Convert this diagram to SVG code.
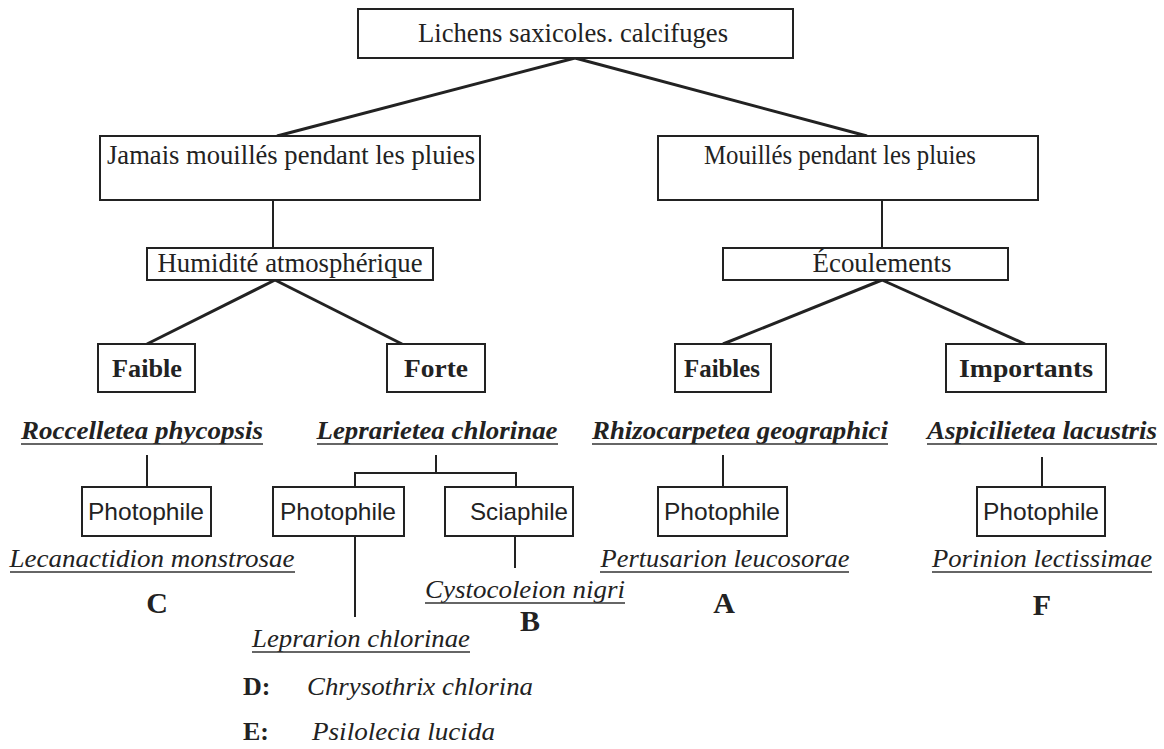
<svg xmlns="http://www.w3.org/2000/svg" width="1164" height="749" viewBox="0 0 1164 749">
<style>
  .box { fill: #ffffff; stroke: #222; stroke-width: 2; }
  .ln { stroke: #222; stroke-width: 2; fill: none; }
  .thick { stroke: #222; stroke-width: 3; fill: none; }
  .ul { stroke: #333; stroke-width: 1.6; }
  .ser { font-family: "Liberation Serif", "Times New Roman", serif; fill: #222; text-anchor: middle; }
  .sans { font-family: "Liberation Sans", Arial, sans-serif; fill: #222; text-anchor: middle; font-size: 24px; }
  .main { font-size: 28px; }
  .bold { font-weight: bold; font-size: 26px; }
  .cls { font-weight: bold; font-style: italic; font-size: 26px; }
  .it { font-style: italic; font-size: 26px; }
  .let { font-weight: bold; font-size: 30px; }
  .lft { text-anchor: start; }
</style>
<rect width="1164" height="749" fill="#ffffff"/>

<g id="connectors">
  <line class="thick" x1="575" y1="58" x2="277" y2="136"/>
  <line class="thick" x1="575" y1="58" x2="867" y2="136"/>
  <line class="ln" x1="273" y1="200" x2="273" y2="248"/>
  <line class="ln" x1="882" y1="200" x2="882" y2="248"/>
  <line class="thick" x1="275" y1="280" x2="147" y2="344"/>
  <line class="thick" x1="275" y1="280" x2="402" y2="344"/>
  <line class="thick" x1="882" y1="280" x2="723" y2="344"/>
  <line class="thick" x1="882" y1="280" x2="1025" y2="344"/>
  <line class="ln" x1="147" y1="455" x2="147" y2="487"/>
  <polyline class="ln" points="436,455 436,473"/>
  <polyline class="ln" points="355,487 355,473 516,473 516,487"/>
  <line class="ln" x1="355" y1="536" x2="355" y2="617"/>
  <line class="ln" x1="515" y1="536" x2="515" y2="568"/>
  <line class="ln" x1="723" y1="455" x2="723" y2="487"/>
  <line class="ln" x1="1042" y1="457" x2="1042" y2="488"/>
</g>

<g id="root">
  <rect class="box" x="358" y="9" width="435" height="49"/>
  <text class="ser main" x="573" y="42" textLength="310" lengthAdjust="spacingAndGlyphs">Lichens saxicoles. calcifuges</text>
</g>

<g id="jamais">
  <rect class="box" x="100" y="136" width="380" height="64"/>
  <text class="ser main" x="291" y="164" textLength="368" lengthAdjust="spacingAndGlyphs">Jamais mouillés pendant les pluies</text>
</g>

<g id="mouilles">
  <rect class="box" x="658" y="136" width="380" height="64"/>
  <text class="ser main" x="840" y="164" textLength="272" lengthAdjust="spacingAndGlyphs">Mouillés pendant les pluies</text>
</g>

<g id="humidite">
  <rect class="box" x="147" y="248" width="286" height="32"/>
  <text class="ser main" x="290" y="272" textLength="265" lengthAdjust="spacingAndGlyphs">Humidité atmosphérique</text>
</g>

<g id="ecoulements">
  <rect class="box" x="723" y="248" width="285" height="32"/>
  <text class="ser main" x="882" y="272" textLength="139" lengthAdjust="spacingAndGlyphs">Écoulements</text>
</g>

<g id="faible">
  <rect class="box" x="98" y="344" width="97" height="48"/>
  <text class="ser bold" x="147" y="377" textLength="70" lengthAdjust="spacingAndGlyphs">Faible</text>
</g>

<g id="forte">
  <rect class="box" x="387" y="344" width="98" height="48"/>
  <text class="ser bold" x="436" y="377" textLength="64" lengthAdjust="spacingAndGlyphs">Forte</text>
</g>

<g id="faibles">
  <rect class="box" x="675" y="344" width="96" height="48"/>
  <text class="ser bold" x="722" y="377" textLength="76" lengthAdjust="spacingAndGlyphs">Faibles</text>
</g>

<g id="importants">
  <rect class="box" x="946" y="344" width="160" height="48"/>
  <text class="ser bold" x="1026" y="377" textLength="134" lengthAdjust="spacingAndGlyphs">Importants</text>
</g>

<g id="roccelletea">
  <text class="ser cls" x="142" y="439" textLength="242" lengthAdjust="spacingAndGlyphs">Roccelletea phycopsis</text>
  <line class="ul" x1="21" y1="444" x2="263" y2="444"/>
</g>

<g id="leprarietea">
  <text class="ser cls" x="437" y="439" textLength="241" lengthAdjust="spacingAndGlyphs">Leprarietea chlorinae</text>
  <line class="ul" x1="317" y1="444" x2="558" y2="444"/>
</g>

<g id="rhizocarpetea">
  <text class="ser cls" x="740" y="439" textLength="296" lengthAdjust="spacingAndGlyphs">Rhizocarpetea geographici</text>
  <line class="ul" x1="592" y1="444" x2="888" y2="444"/>
</g>

<g id="aspicilietea">
  <text class="ser cls" x="1042" y="439" textLength="230" lengthAdjust="spacingAndGlyphs">Aspicilietea lacustris</text>
  <line class="ul" x1="927" y1="444" x2="1157" y2="444"/>
</g>

<g id="photophile-c">
  <rect class="box" x="82" y="487" width="129" height="49"/>
  <text class="sans" x="146" y="520" textLength="116" lengthAdjust="spacingAndGlyphs">Photophile</text>
</g>

<g id="photophile-d">
  <rect class="box" x="273" y="487" width="131" height="49"/>
  <text class="sans" x="338" y="520" textLength="116" lengthAdjust="spacingAndGlyphs">Photophile</text>
</g>

<g id="sciaphile">
  <rect class="box" x="445" y="487" width="128" height="49"/>
  <text class="sans" x="519" y="520" textLength="98" lengthAdjust="spacingAndGlyphs">Sciaphile</text>
</g>

<g id="photophile-a">
  <rect class="box" x="658" y="487" width="129" height="49"/>
  <text class="sans" x="722" y="520" textLength="116" lengthAdjust="spacingAndGlyphs">Photophile</text>
</g>

<g id="photophile-f">
  <rect class="box" x="977" y="487" width="128" height="49"/>
  <text class="sans" x="1041" y="520" textLength="116" lengthAdjust="spacingAndGlyphs">Photophile</text>
</g>

<g id="lecanactidion">
  <text class="ser it" x="152" y="567" textLength="285" lengthAdjust="spacingAndGlyphs">Lecanactidion monstrosae</text>
  <line class="ul" x1="10" y1="572" x2="295" y2="572"/>
</g>

<g id="pertusarion">
  <text class="ser it" x="725" y="567" textLength="249" lengthAdjust="spacingAndGlyphs">Pertusarion leucosorae</text>
  <line class="ul" x1="600" y1="572" x2="849" y2="572"/>
</g>

<g id="porinion">
  <text class="ser it" x="1042" y="567" textLength="220" lengthAdjust="spacingAndGlyphs">Porinion lectissimae</text>
  <line class="ul" x1="932" y1="572" x2="1152" y2="572"/>
</g>

<g id="cystocoleion">
  <text class="ser it" x="525" y="598" textLength="200" lengthAdjust="spacingAndGlyphs">Cystocoleion nigri</text>
  <line class="ul" x1="425" y1="603" x2="625" y2="603"/>
</g>

<g id="leprarion">
  <text class="ser it" x="361" y="647" textLength="218" lengthAdjust="spacingAndGlyphs">Leprarion chlorinae</text>
  <line class="ul" x1="252" y1="652" x2="470" y2="652"/>
</g>

<g id="letters">
  <text class="ser let" x="157" y="613">C</text>
  <text class="ser let" x="530" y="631">B</text>
  <text class="ser let" x="724" y="613">A</text>
  <text class="ser let" x="1042" y="615">F</text>
</g>

<g id="legend-d">
  <text class="ser bold lft" x="243" y="695">D:</text>
  <text class="ser it lft" x="307" y="695" textLength="226" lengthAdjust="spacingAndGlyphs">Chrysothrix chlorina</text>
</g>

<g id="legend-e">
  <text class="ser bold lft" x="243" y="740">E:</text>
  <text class="ser it lft" x="312" y="740" textLength="183" lengthAdjust="spacingAndGlyphs">Psilolecia lucida</text>
</g>
</svg>
